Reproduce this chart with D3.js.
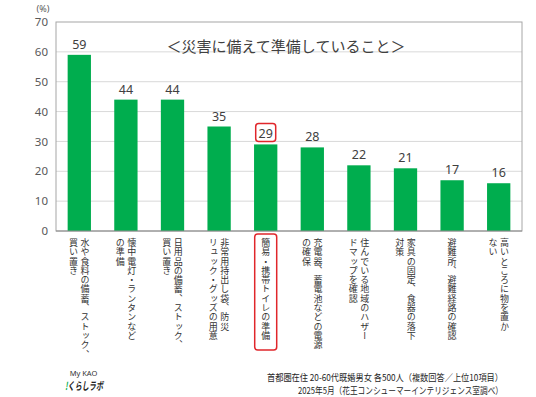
<!DOCTYPE html>
<html>
<head>
<meta charset="utf-8">
<script src="https://cdn.jsdelivr.net/npm/d3@7"></script>
<style>
  body { margin: 0; background: #fff; }
  text { font-family: "Noto Sans CJK JP", "Noto Sans", sans-serif; }
</style>
</head>
<body>
<svg id="chart" width="536" height="397"></svg>
<script>
// data
var items = ["water", "light", "daily", "bag", "toilet", "power", "hazard", "furniture", "shelter", "high"];
var values = [59, 44, 44, 35, 29, 28, 22, 21, 17, 16];
var labelLines = [
    ["水や食料の備蓄、ストック、", "買い置き"],
    ["懐中電灯・ランタンなど", "の準備"],
    ["日用品の備蓄、ストック、", "買い置き"],
    ["非常用持出し袋、防災", "リュック・グッズの用意"],
    ["簡易・携帯トイレの準備"],
    ["充電器、蓄電池などの電源", "の確保"],
    ["住んでいる地域のハザー", "ドマップを確認"],
    ["家具の固定、食器の落下", "対策"],
    ["避難所、避難経路の確認"],
    ["高いところに物を置か", "ない"]
];
var highlight = "toilet";
var yTicks = [0, 10, 20, 30, 40, 50, 60, 70];
var title = "＜災害に備えて準備していること＞";
var sourceLines = [
    "首都圏在住 20-60代既婚男女 各500人（複数回答／上位10項目）",
    "2025年5月（花王コンシューマーインテリジェンス室調べ）"
];

var svg = d3.select("#chart");
var plotL = 56, plotR = 522, plotT = 22, plotB = 231;

var x = d3.scaleBand()
    .domain(items)
    .range([plotL, plotR])
    .paddingInner(0.5)
    .paddingOuter(0.25);

var y = d3.scaleLinear()
    .domain([0, 70])
    .range([plotB, plotT]);

// gridlines
svg.append("g")
    .selectAll("line")
    .data(yTicks.filter(function(d) { return d > 0 && d < 70; }))
    .enter()
    .append("line")
    .attr("x1", plotL)
    .attr("x2", plotR)
    .attr("y1", function(d) { return y(d); })
    .attr("y2", function(d) { return y(d); })
    .attr("stroke", "#d9d9d9")
    .attr("stroke-width", 1);

// frame
svg.append("rect")
    .attr("x", plotL)
    .attr("y", plotT)
    .attr("width", plotR - plotL)
    .attr("height", plotB - plotT)
    .attr("fill", "none")
    .attr("stroke", "#a6a6a6")
    .attr("stroke-width", 1);

// y axis labels
var yAxis = d3.axisLeft(y).tickValues(yTicks).tickSize(0).tickPadding(8);
var gy = svg.append("g")
    .attr("transform", "translate(" + plotL + ",0)")
    .call(yAxis);
gy.select(".domain").remove();
gy.selectAll("text")
    .attr("fill", "#595959")
    .style("font-size", "11.5px")
    .style("font-family", "'Noto Sans', sans-serif");

svg.append("text")
    .attr("x", 43)
    .attr("y", 12)
    .attr("text-anchor", "middle")
    .attr("fill", "#595959")
    .style("font-size", "9px")
    .style("font-family", "'Noto Sans', sans-serif")
    .text("(%)");

// bars
svg.append("g")
    .selectAll("rect")
    .data(values)
    .enter()
    .append("rect")
    .attr("x", function(d, i) { return x(items[i]); })
    .attr("y", function(d) { return y(d); })
    .attr("width", x.bandwidth())
    .attr("height", function(d) { return plotB - y(d); })
    .attr("fill", "#00ad4e");

// bottom axis line
svg.append("line")
    .attr("x1", plotL)
    .attr("x2", plotR)
    .attr("y1", plotB)
    .attr("y2", plotB)
    .attr("stroke", "#8c8c8c")
    .attr("stroke-width", 1);

// value labels
svg.append("g")
    .selectAll("text")
    .data(values)
    .enter()
    .append("text")
    .attr("x", function(d, i) { return x(items[i]) + x.bandwidth() / 2; })
    .attr("y", function(d) { return y(d) - 6; })
    .attr("text-anchor", "middle")
    .attr("fill", "#404040")
    .style("font-size", "12.5px")
    .style("font-family", "'Noto Sans', sans-serif")
    .text(function(d) { return d; });

// highlight box round the value
var hi = items.indexOf(highlight);
var hx = x(highlight) + x.bandwidth() / 2;
svg.append("rect")
    .attr("x", hx - 10)
    .attr("y", y(values[hi]) - 21)
    .attr("width", 20)
    .attr("height", 18)
    .attr("rx", 3)
    .attr("fill", "none")
    .attr("stroke", "#e0262b")
    .attr("stroke-width", 1.5);

// category labels, vertical, one glyph per step
var colGap = 11.5;
var labelTop = 238;
var charStep = 9.3;
items.forEach(function(key, i) {
    var lines = labelLines[i];
    var cx = x(key) + x.bandwidth() / 2;
    var n = lines.length;
    lines.forEach(function(line, j) {
        var colX = cx + ((n - 1) / 2 - j) * colGap;
        var g = svg.append("g").classed("catLabel", true);
        g.selectAll("text")
            .data(Array.from(line))
            .enter()
            .append("text")
            .attr("x", colX)
            .attr("y", function(c, k) { return labelTop + k * charStep; })
            .attr("writing-mode", "vertical-rl")
            .attr("fill", "#333")
            .style("font-size", "9px")
            .text(function(c) { return c; });
    });
});

// highlight box round the label
svg.append("rect")
    .attr("x", hx - 11)
    .attr("y", 234)
    .attr("width", 22)
    .attr("height", 116)
    .attr("rx", 3)
    .attr("fill", "none")
    .attr("stroke", "#e0262b")
    .attr("stroke-width", 1.5);

// title
svg.append("text")
    .attr("x", 286)
    .attr("y", 52)
    .attr("text-anchor", "middle")
    .attr("fill", "#404040")
    .style("font-size", "15px")
    .text(title);

// source
var srcWidths = [236, 205];
svg.append("g")
    .selectAll("text")
    .data(sourceLines)
    .enter()
    .append("text")
    .attr("x", 503)
    .attr("y", function(d, i) { return 381 + i * 12.5; })
    .attr("text-anchor", "end")
    .attr("textLength", function(d, i) { return srcWidths[i]; })
    .attr("lengthAdjust", "spacingAndGlyphs")
    .attr("fill", "#262626")
    .style("font-size", "9.5px")
    .text(function(d) { return d; });

// logo
svg.append("text")
    .attr("x", 83.5)
    .attr("y", 376)
    .attr("text-anchor", "middle")
    .attr("fill", "#333")
    .style("font-size", "7.5px")
    .style("font-family", "'Noto Sans', sans-serif")
    .text("My KAO");

var logo = svg.append("text")
    .attr("x", 65)
    .attr("y", 390)
    .attr("textLength", 38)
    .attr("lengthAdjust", "spacingAndGlyphs")
    .attr("fill", "#222")
    .style("font-size", "11px")
    .style("font-style", "italic")
    .style("font-weight", "bold");
logo.append("tspan").attr("fill", "#00ad4e").text("!");
logo.append("tspan").text("くらしラボ");
</script>
</body>
</html>
